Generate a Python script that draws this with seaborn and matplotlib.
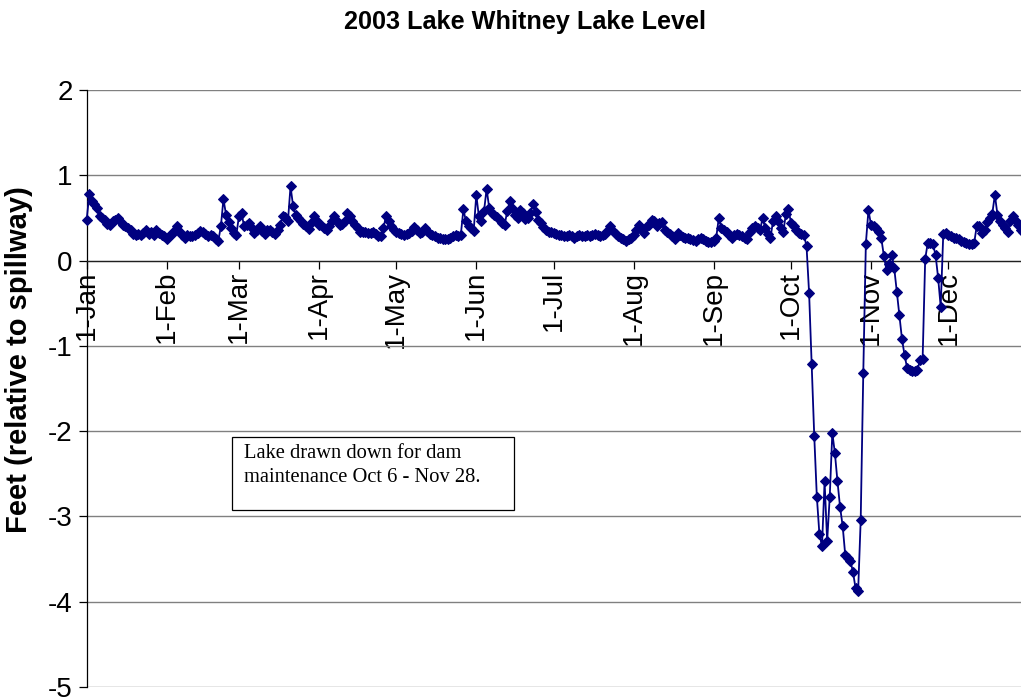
import numpy as np
import pandas as pd
import matplotlib
matplotlib.use("Agg")
import matplotlib.pyplot as plt
from matplotlib.patches import Rectangle
import seaborn as sns

# Daily lake level in 2003, feet relative to the spillway, one list per month
jan = [0.48, 0.78, 0.70, 0.66, 0.62, 0.52, 0.50, 0.48, 0.43, 0.42,
       0.46, 0.48, 0.50, 0.46, 0.42, 0.40, 0.38, 0.36, 0.31, 0.30,
       0.31, 0.30, 0.32, 0.36, 0.31, 0.34, 0.30, 0.36, 0.32, 0.30, 0.29]
feb = [0.25, 0.29, 0.31, 0.35, 0.40, 0.34, 0.30, 0.27, 0.30, 0.29,
       0.29, 0.30, 0.32, 0.35, 0.34, 0.31, 0.29, 0.30, 0.29, 0.25,
       0.23, 0.40, 0.72, 0.54, 0.45, 0.38, 0.32, 0.30]
mar = [0.52, 0.56, 0.40, 0.42, 0.44, 0.38, 0.32, 0.36, 0.40, 0.35,
       0.31, 0.36, 0.36, 0.33, 0.31, 0.36, 0.42, 0.52, 0.51, 0.46,
       0.87, 0.64, 0.54, 0.50, 0.46, 0.43, 0.40, 0.37, 0.44, 0.52, 0.48]
apr = [0.42, 0.42, 0.38, 0.36, 0.40, 0.46, 0.52, 0.46, 0.42, 0.43,
       0.46, 0.56, 0.52, 0.46, 0.42, 0.38, 0.34, 0.33, 0.33, 0.32,
       0.32, 0.34, 0.31, 0.29, 0.29, 0.38, 0.52, 0.46, 0.40, 0.36]
may = [0.34, 0.32, 0.31, 0.30, 0.31, 0.32, 0.35, 0.39, 0.36, 0.32,
       0.34, 0.38, 0.35, 0.31, 0.30, 0.29, 0.27, 0.27, 0.25, 0.25,
       0.25, 0.27, 0.29, 0.30, 0.29, 0.30, 0.60, 0.46, 0.40, 0.38, 0.35]
jun = [0.77, 0.52, 0.46, 0.58, 0.84, 0.62, 0.56, 0.54, 0.51, 0.48,
       0.44, 0.42, 0.58, 0.70, 0.62, 0.54, 0.50, 0.59, 0.56, 0.49,
       0.50, 0.56, 0.66, 0.57, 0.48, 0.44, 0.39, 0.36, 0.34, 0.33]
jul = [0.32, 0.31, 0.30, 0.30, 0.29, 0.29, 0.30, 0.29, 0.27, 0.29,
       0.30, 0.29, 0.29, 0.30, 0.29, 0.30, 0.31, 0.30, 0.29, 0.30,
       0.31, 0.36, 0.40, 0.35, 0.31, 0.29, 0.27, 0.25, 0.23, 0.25, 0.27]
aug = [0.30, 0.36, 0.42, 0.38, 0.32, 0.40, 0.42, 0.47, 0.46, 0.40,
       0.44, 0.45, 0.36, 0.34, 0.31, 0.29, 0.25, 0.32, 0.30, 0.28,
       0.27, 0.26, 0.25, 0.24, 0.23, 0.25, 0.27, 0.25, 0.23, 0.22, 0.22]
sep = [0.23, 0.27, 0.50, 0.38, 0.36, 0.34, 0.30, 0.27, 0.30, 0.31,
       0.30, 0.29, 0.27, 0.25, 0.34, 0.38, 0.40, 0.38, 0.36, 0.50,
       0.38, 0.31, 0.26, 0.46, 0.52, 0.46, 0.38, 0.33, 0.55, 0.60]
oct_ = [0.44, 0.40, 0.36, 0.32, 0.31, 0.30, 0.17, -0.38, -1.21, -2.06,
        -2.77, -3.21, -3.35, -2.59, -3.29, -2.77, -2.02, -2.26, -2.59, -2.89,
        -3.11, -3.45, -3.49, -3.52, -3.65, -3.84, -3.88, -3.04, -1.32, 0.20, 0.59]
nov = [0.42, 0.40, 0.38, 0.34, 0.26, 0.05, -0.11, -0.04, 0.07, -0.09,
       -0.37, -0.64, -0.92, -1.11, -1.26, -1.28, -1.29, -1.30, -1.28, -1.17,
       -1.15, 0.02, 0.21, 0.21, 0.19, 0.07, -0.20, -0.54, 0.31, 0.32]
dec = [0.30, 0.29, 0.27, 0.26, 0.25, 0.23, 0.22, 0.21, 0.20, 0.20,
       0.21, 0.41, 0.40, 0.32, 0.36, 0.45, 0.50, 0.55, 0.77, 0.54,
       0.46, 0.42, 0.38, 0.34, 0.46, 0.52, 0.46, 0.42, 0.36, 0.34, 0.33]

month_labels = ["1-Jan", "1-Feb", "1-Mar", "1-Apr", "1-May", "1-Jun",
                "1-Jul", "1-Aug", "1-Sep", "1-Oct", "1-Nov", "1-Dec"]
y_ticks = [-5, -4, -3, -2, -1, 0, 1, 2]

months = [jan, feb, mar, apr, may, jun, jul, aug, sep, oct_, nov, dec]
month_starts = np.concatenate([[0], np.cumsum([len(m) for m in months])[:-1]])
level = np.concatenate(months)
df = pd.DataFrame({"day": np.arange(len(level)), "level": level})

sns.set_style("white")
plt.rcParams["font.family"] = ["Liberation Sans", "DejaVu Sans"]
plt.rcParams["axes.unicode_minus"] = False
for key in ("text.color", "axes.labelcolor", "xtick.color", "ytick.color"):
    plt.rcParams[key] = "black"

fig = plt.figure(figsize=(10.21, 6.98), dpi=100)
ax = fig.add_axes([86.7 / 1021, 11 / 698, (1021 - 86.7) / 1021, 597 / 698])

navy = "#000080"
sns.lineplot(data=df, x="day", y="level", ax=ax, color=navy, linewidth=1.3,
             marker="D", markersize=5.5, markeredgecolor=navy,
             markerfacecolor=navy, clip_on=False, zorder=3)

ax.set_xlim(0, (1021 - 86.7) / 2.58)
ax.set_ylim(-5, 2)
ax.set_yticks(y_ticks)
ax.set_yticklabels([str(t) for t in y_ticks])
ax.set_xticks(month_starts)
ax.set_xticklabels(month_labels)

ax.set_axisbelow(True)
ax.yaxis.grid(True, color="#808080", linewidth=1.0)
ax.xaxis.grid(False)
for side in ("top", "right"):
    ax.spines[side].set_visible(False)
ax.spines["bottom"].set_position(("data", 0))
ax.spines["bottom"].set_color("#202020")
ax.spines["left"].set_color("black")
ax.spines["bottom"].set_linewidth(0.9)
ax.spines["left"].set_linewidth(0.9)

ax.tick_params(axis="y", direction="out", length=6, width=0.9, color="black",
               labelcolor="black", labelsize=20, pad=4, left=True)
ax.tick_params(axis="x", direction="out", length=6, width=0.9, color="black",
               labelcolor="black", labelsize=20, pad=1.5, labelrotation=90,
               bottom=True)

ax.set_xlabel("")
ax.set_ylabel("Feet (relative to spillway)", fontsize=21, fontweight="bold",
              color="black")
ax.yaxis.set_label_coords(-0.057, 0.548)

fig.text(0.514, 0.968, "2003 Lake Whitney Lake Level", ha="center", va="center",
         fontsize=18.2, fontweight="bold", color="black")

# Note box about the drawdown
ax.add_patch(Rectangle((0.1555, 0.2965), 0.302, 0.1223, transform=ax.transAxes,
                       facecolor="white", edgecolor="black", linewidth=0.9,
                       zorder=4))
ax.text(0.168, 0.4075, "Lake drawn down for dam\nmaintenance Oct 6 - Nov 28.",
        transform=ax.transAxes, ha="left", va="top", fontsize=14.8,
        family=["Liberation Serif", "DejaVu Serif"], linespacing=1.4,
        color="black", zorder=5)

fig.savefig("out.png", dpi=100)
